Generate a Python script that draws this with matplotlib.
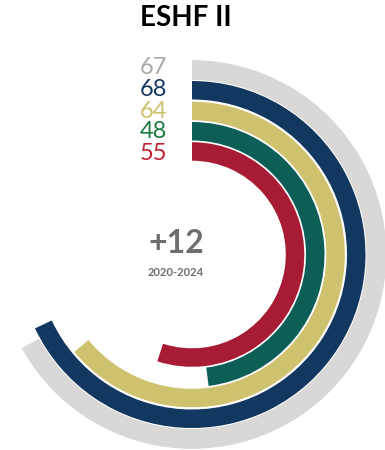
import numpy as np
import matplotlib.pyplot as plt

# ring values, outermost first
labels = ["67", "68", "64", "48", "55"]
values = [67, 68, 64, 48, 55]
bar_colors = ["#D9D8D6", "#13385F", "#CFC26E", "#0C5E56", "#A81B34"]
text_colors = ["#A9A9A9", "#13385F", "#CFC26E", "#1E7A40", "#C0202F"]
title = "ESHF II"
change = "+12"
period = "2020-2024"


def main():
    W, H = 385, 450
    fig = plt.figure(figsize=(W / 100, H / 100), dpi=100)
    plt.rcParams['font.family'] = ['Lato', 'DejaVu Sans']

    # polar axes centred on the rings, radius in pixels
    cx, cy, rmax = 192, 254.5, 194.5
    ax = fig.add_axes([(cx - rmax) / W, (H - cy - rmax) / H, 2 * rmax / W, 2 * rmax / H],
                      projection='polar')
    ax.set_theta_zero_location('N')
    ax.set_theta_direction(-1)
    ax.set_ylim(0, rmax)
    ax.axis('off')

    outer = [194.5, 173.5, 152.8, 132.5, 112.3]
    width = 18.5
    for v, r, c in zip(values, outer, bar_colors):
        w = width + (1.5 if c == bar_colors[0] else 0)
        ax.bar(0, w, width=v / 100 * 2 * np.pi, bottom=r - w,
               align='edge', color=c, linewidth=0)

    fig.text(186 / W, 1 - 18 / H, title, ha='center', va='center',
             fontsize=20, fontweight='bold', color='black')

    ys = [68, 90, 111, 132, 153]
    for lab, y, c in zip(labels, ys, text_colors):
        fig.text(167 / W, 1 - y / H, lab, ha='right', va='center',
                 fontsize=17, color=c)

    fig.text(176 / W, 1 - 243 / H, change, ha='center', va='center',
             fontsize=23, fontweight='bold', color='#6E6E6E')
    fig.text(176 / W, 1 - 273 / H, period, ha='center', va='center',
             fontsize=8, fontweight='bold', color='#6E6E6E')

    fig.savefig("out.png", dpi=100)


if __name__ == '__main__':
    main()
